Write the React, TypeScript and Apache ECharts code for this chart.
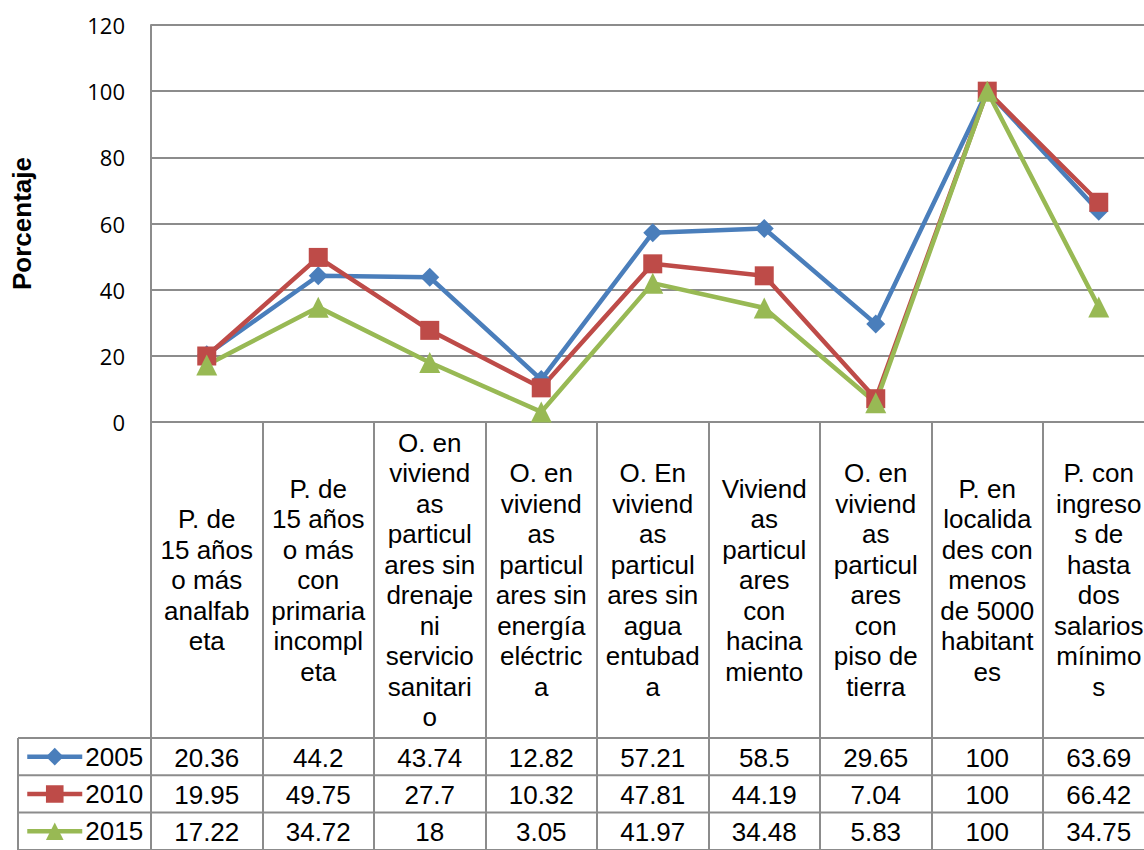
import React, { useEffect, useRef } from "react";
import * as echarts from "echarts";

const categories = [
  "P. de\n15 años\no más\nanalfab\neta",
  "P. de\n15 años\no más\ncon\nprimaria\nincompl\neta",
  "O. en\nviviend\nas\nparticul\nares sin\ndrenaje\nni\nservicio\nsanitari\no",
  "O. en\nviviend\nas\nparticul\nares sin\nenergía\neléctric\na",
  "O. En\nviviend\nas\nparticul\nares sin\nagua\nentubad\na",
  "Viviend\nas\nparticul\nares\ncon\nhacina\nmiento",
  "O. en\nviviend\nas\nparticul\nares\ncon\npiso de\ntierra",
  "P. en\nlocalida\ndes con\nmenos\nde 5000\nhabitant\nes",
  "P. con\ningreso\ns de\nhasta\ndos\nsalarios\nmínimo\ns",
];

const seriesNames = ["2005", "2010", "2015"];
const values2005 = [20.36, 44.2, 43.74, 12.82, 57.21, 58.5, 29.65, 100, 63.69];
const values2010 = [19.95, 49.75, 27.7, 10.32, 47.81, 44.19, 7.04, 100, 66.42];
const values2015 = [17.22, 34.72, 18, 3.05, 41.97, 34.48, 5.83, 100, 34.75];
const seriesValues = [values2005, values2010, values2015];
const seriesColors = ["#4A7EBB", "#BE4B48", "#98B954"];
const seriesSymbols = ["diamond", "rect", "triangle"];
const seriesSymbolSizes = [19, 19, 21];

const yMin = 0;
const yMax = 120;
const yInterval = 20;
const yTitle = "Porcentaje";

const GRID_COLOR = "#8c8c8c";
const TABLE_FONT = "Liberation Sans";

export default function App() {
  const ref = useRef<HTMLDivElement>(null);

  useEffect(() => {
    const chart = echarts.init(ref.current!, null, { renderer: "svg" });
    const gridLeft = 151;
    const gridTop = 25;
    const plotBottom = 422;
    const tableTop = 738;
    const rowH = 37.3;

    chart.setOption({
      animation: false,
      backgroundColor: "#ffffff",
      grid: {
        left: gridLeft,
        top: gridTop,
        bottom: 850 - plotBottom,
        right: -10.5,
        containLabel: false,
        outerBoundsMode: "none",
      },
      legend: {
        orient: "vertical",
        left: 25,
        top: tableTop,
        itemGap: 0,
        itemWidth: 55,
        itemHeight: 22,
        padding: 0,
        selectedMode: false,
        lineStyle: { width: 4.5 },
        textStyle: {
          fontFamily: TABLE_FONT,
          fontSize: 26,
          color: "#000",
          lineHeight: rowH,
          padding: [0, 0, 0, -2],
        },
        data: seriesNames,
      },
      xAxis: {
        type: "category",
        data: categories,
        boundaryGap: true,
        axisLine: { show: true, lineStyle: { color: GRID_COLOR, width: 2 } },
        axisTick: {
          show: true,
          length: 430,
          lineStyle: { color: GRID_COLOR, width: 2 },
        },
        axisLabel: {
          interval: 0,
          margin: 158,
          verticalAlign: "middle",
          align: "center",
          fontFamily: TABLE_FONT,
          fontSize: 26,
          lineHeight: 30.5,
          color: "#000",
        },
        splitLine: { show: false },
      },
      yAxis: {
        type: "value",
        min: yMin,
        max: yMax,
        interval: yInterval,
        name: yTitle,
        nameLocation: "middle",
        nameRotate: 90,
        nameGap: 116,
        nameTextStyle: {
          fontFamily: TABLE_FONT,
          fontWeight: "bold",
          fontSize: 26,
          color: "#000",
        },
        axisLine: { show: true, lineStyle: { color: GRID_COLOR, width: 2 } },
        axisTick: { show: false },
        axisLabel: {
          margin: 26,
          fontFamily: "Open Sans",
          fontSize: 22,
          color: "#000",
        },
        splitLine: { show: true, lineStyle: { color: GRID_COLOR, width: 2 } },
      },
      series: seriesNames.map((name, i) => ({
        name,
        type: "line",
        data: seriesValues[i],
        symbol: seriesSymbols[i],
        symbolSize: seriesSymbolSizes[i],
        showSymbol: true,
        lineStyle: { color: seriesColors[i], width: 4.5 },
        itemStyle: { color: seriesColors[i], borderWidth: 0 },
        emphasis: { disabled: true },
      })),
    });

    const xs = categories.map((_, i) =>
      chart.convertToPixel({ xAxisIndex: 0 }, i) as number
    );
    const graphic: any[] = [];
    for (let r = 0; r <= 3; r++) {
      const y = tableTop + r * rowH;
      graphic.push({
        type: "line",
        shape: { x1: 18, y1: y, x2: 1160, y2: y },
        style: { stroke: GRID_COLOR, lineWidth: 2 },
        silent: true,
      });
    }
    graphic.push({
      type: "line",
      shape: { x1: 18, y1: tableTop, x2: 18, y2: 860 },
      style: { stroke: GRID_COLOR, lineWidth: 2 },
      silent: true,
    });
    seriesValues.forEach((vals, r) => {
      vals.forEach((v, c) => {
        graphic.push({
          type: "text",
          x: xs[c],
          y: tableTop + r * rowH + rowH / 2 + 1,
          silent: true,
          style: {
            text: String(v),
            fontFamily: TABLE_FONT,
            fontSize: 26,
            fill: "#000",
            align: "center",
            verticalAlign: "middle",
          },
        });
      });
    });
    chart.setOption({ graphic });

    return () => chart.dispose();
  }, []);

  return (
    <div
      ref={ref}
      style={{ position: "absolute", left: 0, top: 0, width: 1144, height: 850 }}
    />
  );
}
